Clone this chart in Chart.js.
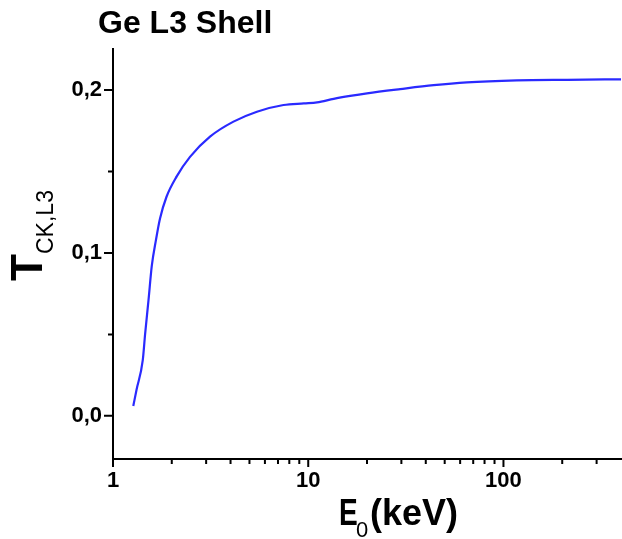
<!DOCTYPE html>
<html>
<head>
  <title>Ge L3 Shell</title>
  <style>
    body {
      margin: 0;
      padding: 0;
      background: #ffffff;
    }
    #wrap {
      width: 622px;
      height: 539px;
    }
  </style>
</head>
<body>
  <div id="wrap">
    <canvas id="graph"></canvas>
  </div>

  <script src="https://cdn.jsdelivr.net/npm/chart.js"></script>
  <script>
    // Curve: energy E0 (keV) and T(CK,L3)
    const energy = [1.27, 1.32, 1.42, 1.46, 1.52, 1.58, 1.66, 1.74, 1.88, 2.12, 2.48, 3.14, 4.14, 5.46, 7.47, 9.5, 11.1, 13.5, 16.4, 20, 29.6, 43.9, 65, 117, 212, 400];
    const tValues = [0.006, 0.016, 0.034, 0.05, 0.071, 0.092, 0.108, 0.121, 0.1345, 0.147, 0.159, 0.1714, 0.1806, 0.1867, 0.1908, 0.1918, 0.1924, 0.1946, 0.1964, 0.1980, 0.2006, 0.2030, 0.2047, 0.2059, 0.2063, 0.2066];

    // Axis ticks
    const xMajor = [1, 10, 100];
    const xMinor = [2, 3, 4, 5, 6, 7, 8, 9, 20, 30, 40, 50, 60, 70, 80, 90, 200, 300];
    const yMajor = [0, 0.1, 0.2];
    const yMinor = [0.05, 0.15];

    const tickFont = { family: 'Liberation Sans, Arial, sans-serif', size: 22, weight: 'bold' };

    // Tick marks, title and axis titles with subscripts
    const decorations = {
      id: 'decorations',
      afterDraw(chart) {
        const ctx = chart.ctx;
        const x = chart.scales.x;
        const y = chart.scales.y;
        const area = chart.chartArea;
        ctx.save();
        ctx.strokeStyle = '#000';
        ctx.lineWidth = 2;
        ctx.beginPath();
        xMajor.forEach(v => {
          const px = x.getPixelForValue(v);
          ctx.moveTo(px, area.bottom);
          ctx.lineTo(px, area.bottom + 8);
        });
        xMinor.forEach(v => {
          const px = x.getPixelForValue(v);
          ctx.moveTo(px, area.bottom);
          ctx.lineTo(px, area.bottom + 5);
        });
        yMajor.forEach(v => {
          const py = y.getPixelForValue(v);
          ctx.moveTo(area.left, py);
          ctx.lineTo(area.left - 9, py);
        });
        yMinor.forEach(v => {
          const py = y.getPixelForValue(v);
          ctx.moveTo(area.left, py);
          ctx.lineTo(area.left - 5, py);
        });
        ctx.stroke();

        ctx.fillStyle = '#000';
        ctx.textBaseline = 'alphabetic';
        ctx.textAlign = 'left';

        // title
        ctx.font = 'bold 32px "Liberation Sans", Arial, sans-serif';
        ctx.fillText('Ge L3 Shell', 98, 33);

        // x axis title: E0 (keV), the E is a narrower face in the original
        ctx.save();
        ctx.translate(339, 525);
        ctx.scale(0.78, 1);
        ctx.font = 'bold 36px "Liberation Sans", Arial, sans-serif';
        ctx.fillText('E', 0, 0);
        ctx.restore();
        ctx.font = '22px "Liberation Sans", Arial, sans-serif';
        ctx.fillText('0', 356, 537);
        ctx.font = 'bold 36px "Liberation Sans", Arial, sans-serif';
        ctx.fillText('(keV)', 370, 525);

        // y axis title: T CK,L3
        ctx.rotate(-Math.PI / 2);
        ctx.font = 'bold 44px "Liberation Sans", Arial, sans-serif';
        ctx.fillText('T', -281, 42);
        ctx.font = '23px "Liberation Sans", Arial, sans-serif';
        ctx.fillText('CK,L3', -254, 53);
        ctx.restore();
      }
    };

    const ctx = document.getElementById('graph').getContext('2d');
    new Chart(ctx, {
      type: 'line',
      data: {
        datasets: [{
          label: 'T CK,L3',
          data: energy.map((e, i) => ({ x: e, y: tValues[i] })),
          borderColor: '#2a2aff',
          borderWidth: 2.2,
          backgroundColor: 'transparent',
          pointRadius: 0,
          cubicInterpolationMode: 'monotone'
        }]
      },
      options: {
        responsive: true,
        maintainAspectRatio: false,
        animation: false,
        layout: {
          padding: { top: 49, right: 1, left: 0, bottom: 0 }
        },
        plugins: {
          legend: { display: false },
          tooltip: { enabled: false }
        },
        scales: {
          x: {
            type: 'logarithmic',
            min: 1,
            max: 400,
            afterBuildTicks: scale => {
              scale.ticks = xMajor.map(v => ({ value: v }));
            },
            afterFit: scale => { scale.height = 80; },
            ticks: {
              callback: v => String(v),
              font: tickFont,
              color: '#000',
              padding: 9,
              maxRotation: 0,
              autoSkip: false
            },
            grid: { display: false, drawTicks: false },
            border: { display: true, color: '#000', width: 2 }
          },
          y: {
            type: 'linear',
            min: -0.0265,
            max: 0.2252,
            afterBuildTicks: scale => {
              scale.ticks = yMajor.map(v => ({ value: v }));
            },
            afterFit: scale => { scale.width = 113; },
            ticks: {
              callback: v => v.toFixed(1).replace('.', ','),
              font: tickFont,
              color: '#000',
              padding: 11
            },
            grid: { display: false, drawTicks: false },
            border: { display: true, color: '#000', width: 2 }
          }
        }
      },
      plugins: [decorations]
    });
  </script>
</body>
</html>
